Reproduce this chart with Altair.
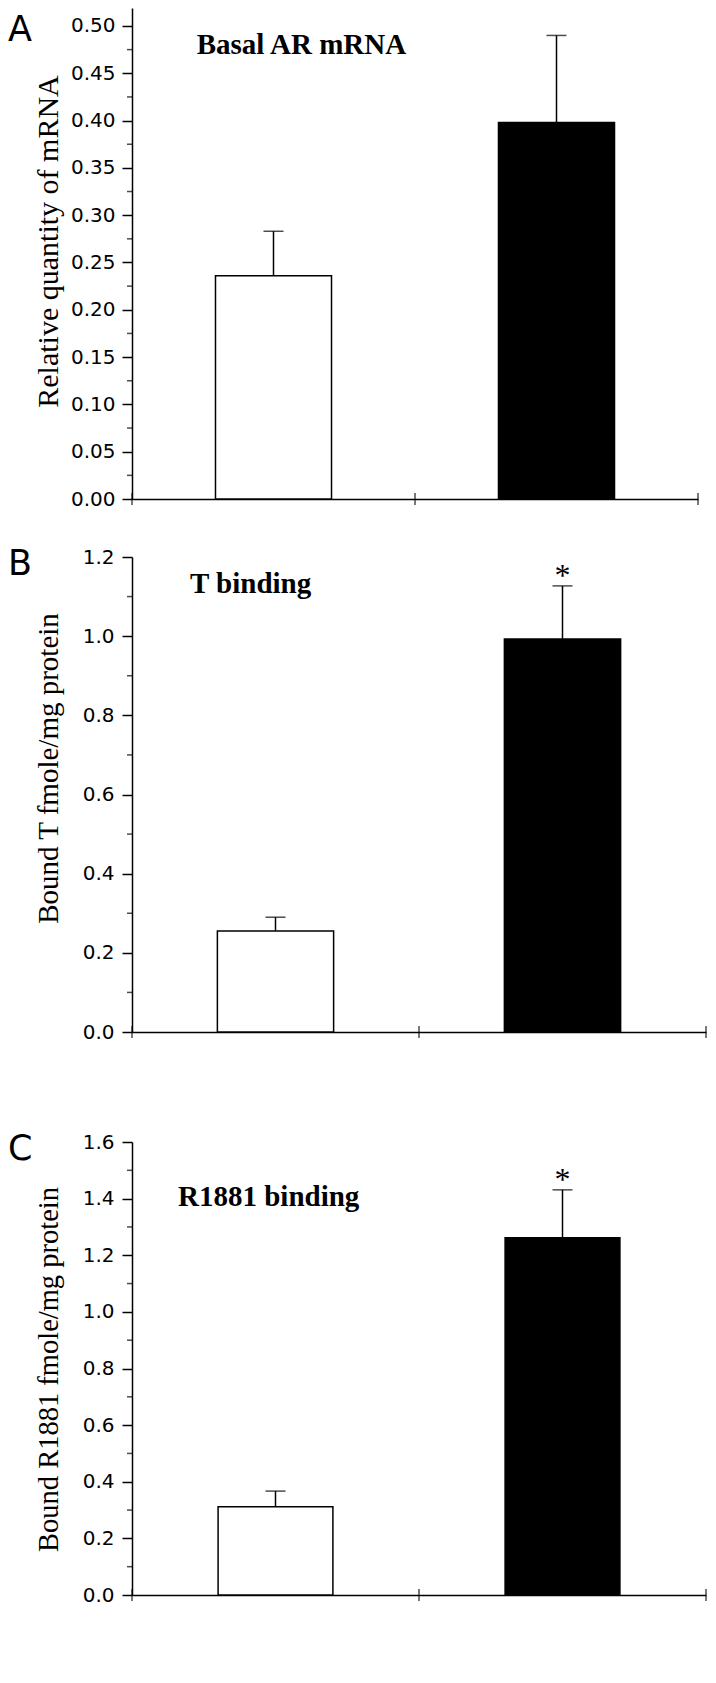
import altair as alt
import pandas as pd

# ---------------- data ----------------
groups = ["Control", "Treated"]
group_pos = [0.5, 1.5]
bar_fills = ["white", "black"]
x_ticks = [0, 1, 2]

# Panel A: Basal AR mRNA
a_mean = [0.236, 0.398]
a_sem = [0.047, 0.092]
a_sig = ["", ""]
a_major = [0.00, 0.05, 0.10, 0.15, 0.20, 0.25, 0.30, 0.35, 0.40, 0.45, 0.50]
a_minor = [0.025, 0.075, 0.125, 0.175, 0.225, 0.275, 0.325, 0.375, 0.425, 0.475]

# Panel B: T binding
b_mean = [0.255, 0.993]
b_sem = [0.035, 0.134]
b_sig = ["", "*"]
b_major = [0.0, 0.2, 0.4, 0.6, 0.8, 1.0, 1.2]
b_minor = [0.1, 0.3, 0.5, 0.7, 0.9, 1.1]

# Panel C: R1881 binding
c_mean = [0.312, 1.262]
c_sem = [0.055, 0.169]
c_sig = ["", "*"]
c_major = [0.0, 0.2, 0.4, 0.6, 0.8, 1.0, 1.2, 1.4, 1.6]
c_minor = [0.1, 0.3, 0.5, 0.7, 0.9, 1.1, 1.3, 1.5]

SERIF = "Liberation Serif"
SANS = "DejaVu Sans"


def panel(letter, heading, ytitle, means, sems, sig, major, minor, fmt, ymax,
          width, height, bar_w, yt_size, yt_y, head_x, head_y, letter_y, lab_pad):
    df = pd.DataFrame({
        "group": groups,
        "pos": group_pos,
        "mean": means,
        "upper": [m + s for m, s in zip(means, sems)],
        "sig": sig,
    })
    df["x0"] = df["pos"] - bar_w / 2
    df["x1"] = df["pos"] + bar_w / 2

    xs = alt.Scale(domain=[0, 2], nice=False, zero=False)
    ys = alt.Scale(domain=[0, ymax], nice=False)
    x_axis = alt.Axis(
        title=None, labels=False, ticks=False, grid=False, domain=True,
        domainColor="black", domainWidth=1.5, minExtent=0)
    y_axis = alt.Axis(
        title=ytitle, values=major, format=fmt, grid=False,
        domainColor="black", domainWidth=1.5,
        tickColor="black", tickWidth=1.5, tickSize=10,
        labelFont=SANS, labelFontSize=20, labelColor="black",
        labelPadding=lab_pad, labelOverlap=False,
        titleFont=SERIF, titleFontSize=yt_size, titleFontWeight="normal",
        titleColor="black", titleAngle=270, titleAlign="center",
        titleBaseline="alphabetic", titleX=-75, titleY=yt_y)

    base = alt.Chart(df)
    bars = base.mark_rect(stroke="black", strokeWidth=1.5).encode(
        x=alt.X("x0:Q", scale=xs, axis=x_axis),
        x2="x1:Q",
        y=alt.Y("mean:Q", scale=ys, axis=y_axis),
        y2=alt.datum(0),
        fill=alt.Fill("group:N", scale=alt.Scale(domain=groups, range=bar_fills),
                      legend=None),
    )
    stem = base.mark_rule(color="black", strokeWidth=1.5).encode(
        x=alt.X("pos:Q", scale=xs, axis=x_axis),
        y=alt.Y("mean:Q", scale=ys, axis=y_axis),
        y2="upper:Q",
    )
    cap = base.mark_tick(orient="horizontal", size=20, thickness=1.5,
                         color="black").encode(
        x=alt.X("pos:Q", scale=xs, axis=x_axis),
        y=alt.Y("upper:Q", scale=ys, axis=y_axis),
    )
    star = base.mark_text(font=SERIF, fontSize=32, baseline="alphabetic",
                          dy=0, color="black").encode(
        x=alt.X("pos:Q", scale=xs, axis=x_axis),
        y=alt.Y("upper:Q", scale=ys, axis=y_axis),
        text="sig:N",
    )
    xt = alt.Chart(pd.DataFrame({"t": x_ticks})).mark_tick(
        orient="vertical", size=12, thickness=1.5, color="black").encode(
        x=alt.X("t:Q", scale=xs, axis=x_axis),
        y=alt.YDatum(0, scale=ys, axis=y_axis),
    )
    mt = alt.Chart(pd.DataFrame({"v": minor})).mark_tick(
        orient="horizontal", size=5, thickness=1.5, color="black",
        xOffset=-2.5).encode(
        x=alt.XDatum(0, scale=xs, axis=x_axis),
        y=alt.Y("v:Q", scale=ys, axis=y_axis),
    )
    head = alt.Chart(pd.DataFrame({"t": [heading]})).mark_text(
        font=SERIF, fontSize=29, fontWeight="bold", align="left",
        baseline="alphabetic", color="black").encode(
        x=alt.value(head_x), y=alt.value(head_y), text="t:N")
    let = alt.Chart(pd.DataFrame({"t": [letter]})).mark_text(
        font=SANS, fontSize=35, align="left", baseline="top",
        color="black").encode(
        x=alt.value(-124), y=alt.value(letter_y), text="t:N")
    return alt.layer(bars, stem, cap, star, xt, mt, head, let).properties(
        width=width, height=height)


pA = panel("A", "Basal AR mRNA", "Relative quantity of mRNA", a_mean, a_sem, a_sig,
           a_major, a_minor, ".2f", 0.519, 566, 491, 0.41, 30, 233, 64.7, 46, 5, 7)
pB = panel("B", "T binding", "Bound T fmole/mg protein", b_mean, b_sem, b_sig,
           b_major, b_minor, ".1f", 1.2, 574, 475, 0.405, 29, 211, 58, 36, -9.6, 8)
pC = panel("C", "R1881 binding", "Bound R1881 fmole/mg protein", c_mean, c_sem, c_sig,
           c_major, c_minor, ".1f", 1.6, 574, 453, 0.40, 28.5, 227, 46, 64, -10.2, 8)

top = alt.vconcat(pA, pB, spacing=38)
chart = alt.vconcat(top, pC, spacing=89).properties(padding=0).configure_view(stroke=None)

chart.save("out.html", embed_options={"renderer": "svg", "actions": False})
